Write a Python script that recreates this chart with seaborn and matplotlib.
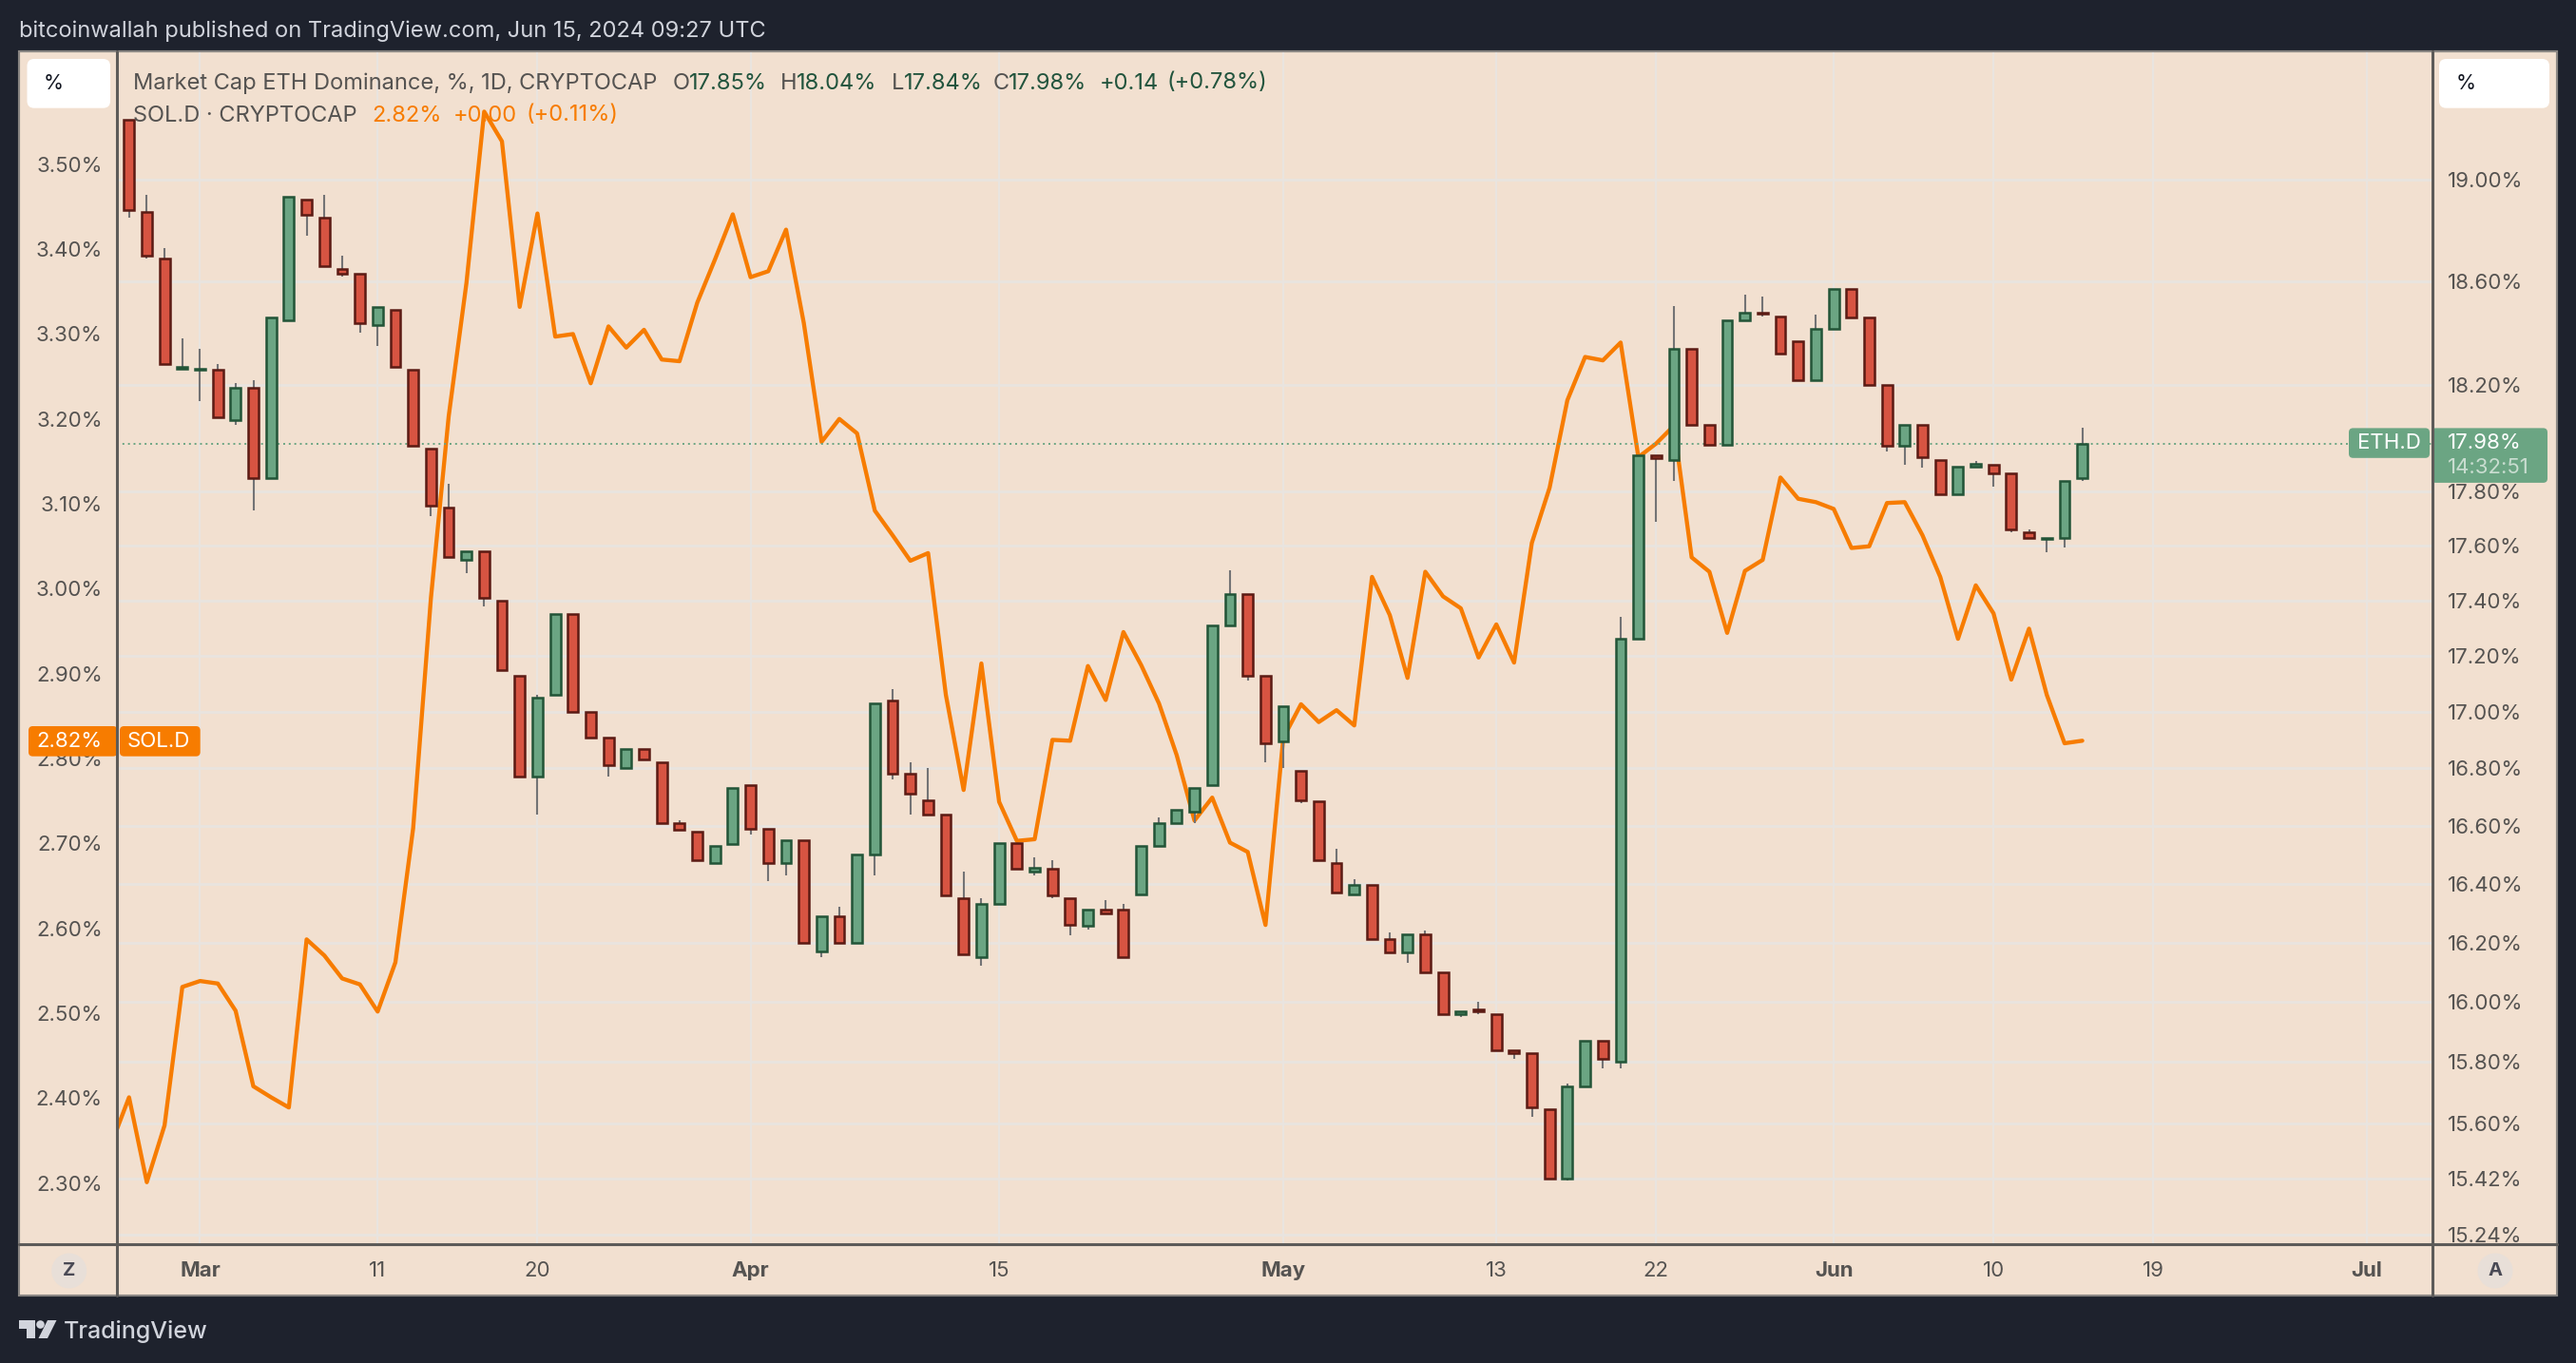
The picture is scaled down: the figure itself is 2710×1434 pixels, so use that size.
"""ETH.D candles with the SOL.D line, TradingView style."""

import matplotlib
matplotlib.use("Agg")
import matplotlib.dates as mdates
import matplotlib.pyplot as plt
from matplotlib.patches import Circle, FancyBboxPatch, Polygon, Rectangle
from matplotlib.ticker import FixedFormatter, FixedLocator, NullLocator
import pandas as pd
import seaborn as sns

# ── data ──────────────────────────────────────────────────────────────────────
eth_open = [
    19.24, 18.87, 18.69, 18.265, 18.26, 18.26, 18.07, 18.19, 17.85, 18.45,
    18.92, 18.85, 18.65, 18.63, 18.43, 18.49, 18.26, 17.96, 17.74, 17.55,
    17.58, 17.40, 17.13, 16.77, 17.06, 17.35, 17.00, 16.91, 16.80, 16.87,
    16.82, 16.61, 16.58, 16.47, 16.535, 16.74, 16.59, 16.47, 16.55, 16.17,
    16.29, 16.20, 16.50, 17.04, 16.78, 16.69, 16.64, 16.35, 16.15, 16.33,
    16.54, 16.44, 16.45, 16.35, 16.255, 16.31, 16.31, 16.365, 16.53, 16.61,
    16.65, 16.74, 17.31, 17.425, 17.13, 16.895, 16.79, 16.685, 16.47, 16.365,
    16.395, 16.21, 16.165, 16.226, 16.10, 15.96, 15.975, 15.96, 15.84, 15.83,
    15.645, 15.42, 15.72, 15.87, 15.80, 17.26, 17.935, 17.92, 18.34, 18.05,
    17.975, 18.45, 18.48, 18.465, 18.37, 18.22, 18.415, 18.57, 18.46, 18.20,
    17.97, 18.05, 17.92, 17.79, 17.895, 17.90, 17.87, 17.65, 17.625, 17.63, 17.85,
]
eth_high = [
    19.24, 18.94, 18.73, 18.38, 18.34, 18.28, 18.21, 18.22, 18.46, 18.93,
    18.92, 18.94, 18.70, 18.63, 18.50, 18.49, 18.26, 17.96, 17.83, 17.58,
    17.58, 17.40, 17.13, 17.06, 17.35, 17.35, 17.00, 16.91, 16.87, 16.87,
    16.82, 16.62, 16.58, 16.53, 16.73, 16.74, 16.59, 16.55, 16.55, 16.29,
    16.32, 16.50, 17.03, 17.08, 16.82, 16.80, 16.64, 16.44, 16.35, 16.54,
    16.54, 16.49, 16.48, 16.35, 16.31, 16.345, 16.33, 16.53, 16.63, 16.655,
    16.73, 17.31, 17.51, 17.425, 17.13, 17.02, 16.79, 16.685, 16.52, 16.415,
    16.395, 16.235, 16.226, 16.24, 16.10, 15.97, 16.00, 15.96, 15.84, 15.83,
    15.645, 15.73, 15.87, 15.87, 17.34, 17.935, 17.935, 18.505, 18.34, 18.05,
    18.45, 18.55, 18.54, 18.465, 18.37, 18.47, 18.57, 18.57, 18.46, 18.20,
    18.05, 18.05, 17.92, 17.895, 17.915, 17.90, 17.87, 17.66, 17.63, 17.84, 18.04,
]
eth_low = [
    18.85, 18.69, 18.28, 18.26, 18.14, 18.08, 18.05, 17.73, 17.85, 18.45,
    18.78, 18.66, 18.62, 18.40, 18.35, 18.27, 17.97, 17.71, 17.56, 17.50,
    17.38, 17.15, 16.77, 16.64, 17.06, 17.00, 16.91, 16.77, 16.80, 16.83,
    16.61, 16.585, 16.48, 16.47, 16.535, 16.57, 16.41, 16.43, 16.20, 16.15,
    16.20, 16.20, 16.43, 16.76, 16.64, 16.64, 16.36, 16.16, 16.12, 16.33,
    16.45, 16.43, 16.35, 16.225, 16.245, 16.30, 16.15, 16.365, 16.53, 16.61,
    16.61, 16.74, 17.31, 17.11, 16.82, 16.80, 16.68, 16.48, 16.37, 16.365,
    16.21, 16.165, 16.13, 16.10, 15.96, 15.95, 15.96, 15.84, 15.81, 15.62,
    15.42, 15.415, 15.72, 15.78, 15.78, 17.26, 17.69, 17.84, 18.05, 17.975,
    17.975, 18.45, 18.465, 18.32, 18.22, 18.22, 18.415, 18.46, 18.20, 17.95,
    17.90, 17.89, 17.79, 17.79, 17.895, 17.82, 17.65, 17.63, 17.575, 17.595, 17.84,
]
eth_close = [
    18.88, 18.70, 18.28, 18.27, 18.265, 18.08, 18.19, 17.85, 18.46, 18.93,
    18.86, 18.66, 18.63, 18.44, 18.50, 18.27, 17.97, 17.75, 17.56, 17.58,
    17.41, 17.15, 16.77, 17.05, 17.35, 17.00, 16.91, 16.81, 16.87, 16.83,
    16.61, 16.585, 16.48, 16.53, 16.73, 16.59, 16.47, 16.55, 16.20, 16.29,
    16.20, 16.50, 17.03, 16.78, 16.71, 16.64, 16.36, 16.16, 16.33, 16.54,
    16.45, 16.455, 16.36, 16.26, 16.31, 16.30, 16.15, 16.53, 16.61, 16.655,
    16.73, 17.31, 17.425, 17.13, 16.89, 17.02, 16.69, 16.48, 16.37, 16.395,
    16.21, 16.165, 16.226, 16.10, 15.96, 15.97, 15.97, 15.84, 15.83, 15.65,
    15.42, 15.72, 15.87, 15.81, 17.26, 17.935, 17.925, 18.34, 18.05, 17.975,
    18.45, 18.48, 18.475, 18.32, 18.22, 18.415, 18.57, 18.46, 18.20, 17.97,
    18.05, 17.93, 17.79, 17.895, 17.905, 17.87, 17.66, 17.63, 17.63, 17.84, 17.98,
]
# one day longer than the candles: the line runs off the left edge
sol_close = [
    2.346, 2.401, 2.301, 2.368, 2.531, 2.538, 2.535, 2.503, 2.414, 2.401,
    2.389, 2.587, 2.568, 2.541, 2.534, 2.502, 2.560, 2.718, 2.989, 3.203,
    3.360, 3.562, 3.527, 3.332, 3.442, 3.297, 3.300, 3.242, 3.309, 3.284,
    3.305, 3.270, 3.268, 3.337, 3.388, 3.441, 3.367, 3.374, 3.423, 3.313,
    3.173, 3.200, 3.183, 3.092, 3.063, 3.033, 3.042, 2.875, 2.763, 2.912,
    2.749, 2.703, 2.705, 2.822, 2.821, 2.909, 2.869, 2.949, 2.910, 2.865,
    2.804, 2.727, 2.754, 2.701, 2.690, 2.604, 2.824, 2.864, 2.843, 2.857,
    2.839, 3.014, 2.969, 2.895, 3.020, 2.991, 2.977, 2.919, 2.958, 2.913,
    3.054, 3.119, 3.222, 3.273, 3.269, 3.290, 3.155, 3.171, 3.192, 3.037,
    3.020, 2.948, 3.021, 3.034, 3.131, 3.106, 3.102, 3.094, 3.048, 3.050,
    3.101, 3.102, 3.063, 3.014, 2.941, 3.004, 2.971, 2.893, 2.953, 2.875,
    2.818, 2.821,
]
eth_ticks = [19.00, 18.60, 18.20, 17.80, 17.60, 17.40, 17.20, 17.00, 16.80,
             16.60, 16.40, 16.20, 16.00, 15.80, 15.60, 15.42, 15.24]
sol_ticks = [3.50, 3.40, 3.30, 3.20, 3.10, 3.00, 2.90, 2.80, 2.70, 2.60, 2.50, 2.40, 2.30]
time_ticks = ["2024-03-01", "2024-03-11", "2024-03-20", "2024-04-01", "2024-04-15", "2024-05-01",
              "2024-05-13", "2024-05-22", "2024-06-01", "2024-06-10", "2024-06-19", "2024-07-01"]
time_labels = ["Mar", "11", "20", "Apr", "15", "May", "13", "22", "Jun", "10", "19", "Jul"]
month_labels = {"Mar", "Apr", "May", "Jun", "Jul"}

# ── style ─────────────────────────────────────────────────────────────────────
W, H = 2710, 1434
DARK = "#1E222D"
PAPER = "#F2E0D0"
GRID = "#E9E4DF"
AXIS = "#5D5B59"
TEXT = "#555351"
GREEN = "#6BA583"
GREEN_EDGE = "#225437"
RED = "#D75442"
RED_EDGE = "#5B1A13"
WICK = "#737375"
ORANGE = "#F77C00"

sns.set_theme(style="white")
plt.rcParams["font.family"] = ["Inter", "DejaVu Sans"]

AX_L, AX_R, AX_T, AX_B, TIME_B = 122.5, 2559, 54, 1309, 1363


def rect(left, top, right, bottom):
    return [left / W, 1 - bottom / H, (right - left) / W, (bottom - top) / H]


def overlay(fig, zorder):
    a = fig.add_axes([0, 0, 1, 1], zorder=zorder, facecolor="none")
    a.set_xlim(0, W)
    a.set_ylim(H, 0)
    a.axis("off")
    return a


def badge(a, left, top, right, bottom, color, radius=3):
    a.add_patch(FancyBboxPatch(
        (left + radius, top + radius), right - left - 2 * radius, bottom - top - 2 * radius,
        boxstyle=f"round,pad={radius},rounding_size={radius * 1.5}",
        fc=color, ec="none",
    ))


fig = plt.figure(figsize=(W / 100, H / 100), dpi=100, facecolor=DARK)

background = overlay(fig, 0)
background.add_patch(Rectangle((20, AX_T), 2670, TIME_B - AX_T, fc=PAPER, ec="#8A8683", lw=1.5))

# ── axes ──────────────────────────────────────────────────────────────────────
dates = pd.date_range("2024-02-26", periods=len(eth_close), freq="D")
sol_dates = pd.date_range("2024-02-25", periods=len(sol_close), freq="D")
x_candle = mdates.date2num(dates)
x_limits = (mdates.date2num(pd.Timestamp("2024-03-01")) - 4.71,
            mdates.date2num(pd.Timestamp("2024-03-01")) + 125.72)
eth_limits = (15.21, 19.516)
sol_limits = (2.228, 3.633)

ax_grid = fig.add_axes(rect(AX_L, AX_T, AX_R, AX_B), zorder=1, facecolor="none")
ax_sol = fig.add_axes(rect(AX_L, AX_T, AX_R, AX_B), zorder=2, facecolor="none")
ax_eth = fig.add_axes(rect(AX_L, AX_T, AX_R, AX_B), zorder=3, facecolor="none")
ax_time = fig.add_axes(rect(AX_L, AX_B, AX_R, TIME_B), zorder=4, facecolor=PAPER)

tick_x = mdates.date2num(pd.to_datetime(time_ticks))

for a in (ax_grid, ax_eth):
    a.set_yscale("log")
    a.set_ylim(*eth_limits)
for a in (ax_grid, ax_sol, ax_eth, ax_time):
    a.set_xlim(*x_limits)
    a.yaxis.set_minor_locator(NullLocator())
    a.xaxis.set_minor_locator(NullLocator())
    for spine in a.spines.values():
        spine.set_visible(False)

# right scale and grid
ax_grid.yaxis.tick_right()
ax_grid.yaxis.set_major_locator(FixedLocator(eth_ticks))
ax_grid.yaxis.set_major_formatter(FixedFormatter([f"{v:.2f}%" for v in eth_ticks]))
ax_grid.xaxis.set_major_locator(FixedLocator(tick_x))
ax_grid.xaxis.set_major_formatter(FixedFormatter([""] * len(tick_x)))
ax_grid.tick_params(axis="y", length=0, pad=11.5, labelsize=16, labelcolor=TEXT)
ax_grid.tick_params(axis="x", length=0)
ax_grid.grid(True, axis="y", color=GRID, lw=2.0)
ax_grid.grid(True, axis="x", color=GRID, lw=1.6)

# SOL.D line, left scale
sns.lineplot(x=sol_dates, y=sol_close, ax=ax_sol, color=ORANGE, linewidth=3.1, legend=False)
ax_sol.set_xlim(*x_limits)
ax_sol.set_ylim(*sol_limits)
ax_sol.set_xlabel("")
ax_sol.set_ylabel("")
ax_sol.set_xticks([])
ax_sol.set_yticks(sol_ticks)
ax_sol.set_yticklabels([f"{v:.2f}%" for v in sol_ticks])
ax_sol.tick_params(axis="y", length=0, pad=10.5, labelsize=16, labelcolor=TEXT)

# ETH.D candles
candles = pd.DataFrame({"x": x_candle, "open": eth_open, "high": eth_high,
                        "low": eth_low, "close": eth_close})
candles["up"] = candles["close"] >= candles["open"]
candles["body_low"] = candles[["open", "close"]].min(axis=1)
candles["body_high"] = candles[["open", "close"]].max(axis=1)

ax_eth.vlines(candles["x"], candles["low"], candles["high"], color=WICK, lw=1.5, zorder=2)
for is_up, face, edge in ((True, GREEN, GREEN_EDGE), (False, RED, RED_EDGE)):
    sub = candles[candles["up"] == is_up]
    ax_eth.bar(sub["x"], sub["body_high"] - sub["body_low"], bottom=sub["body_low"],
               width=0.58, color=face, edgecolor=edge, linewidth=1.8, zorder=3)
ax_eth.set_xlim(*x_limits)
ax_eth.set_ylim(*eth_limits)
ax_eth.set_xticks([])
ax_eth.yaxis.set_major_locator(FixedLocator([]))
ax_eth.axhline(eth_close[-1], color=GREEN, lw=1.4, linestyle=(0, (1, 2)), zorder=1)

# time scale
ax_time.set_yticks([])
ax_time.set_xticks(tick_x)
ax_time.set_xticklabels(time_labels)
ax_time.tick_params(axis="x", length=0, pad=-26, labelsize=16, labelcolor=TEXT)
for label in ax_time.get_xticklabels():
    if label.get_text() in month_labels:
        label.set_fontweight("bold")

# ── chrome ────────────────────────────────────────────────────────────────────
ov = overlay(fig, 5)
ov.add_patch(Rectangle((20, AX_B), AX_L - 20, TIME_B - AX_B, fc=PAPER, ec="none"))
ov.add_patch(Rectangle((AX_R, AX_B), 2690 - AX_R, TIME_B - AX_B, fc=PAPER, ec="none"))
ov.add_patch(Rectangle((20, AX_T), 2670, TIME_B - AX_T, fc="none", ec="#8A8683", lw=1.5))
ov.plot([AX_L, AX_L], [AX_T, TIME_B], color=AXIS, lw=2.2)
ov.plot([AX_R, AX_R], [AX_T, TIME_B], color=AXIS, lw=2.2)
ov.plot([20, 2690], [AX_B, AX_B], color=AXIS, lw=2.2)

# header and footer
ov.text(20, 33, "bitcoinwallah published on TradingView.com, Jun 15, 2024 09:27 UTC",
        color="#D1D4DC", fontsize=17, va="center")
ov.text(67, 1401, "TradingView", color="#D1D4DC", fontsize=18, va="center", fontweight="medium")
ov.add_patch(Polygon([(20, 1389), (37, 1389), (37, 1408), (28, 1408), (28, 1398), (20, 1398)],
                     fc="#D1D4DC", ec="none"))
ov.add_patch(Circle((42.5, 1393.5), 4.3, fc="#D1D4DC", ec="none"))
ov.add_patch(Polygon([(50, 1389), (59.5, 1389), (50, 1408), (40.5, 1408)], fc="#D1D4DC", ec="none"))

# legend rows
LEGEND_GREEN = "#22543D"
row1 = [
    (140, "Market Cap ETH Dominance, %, 1D, CRYPTOCAP", TEXT), (708, "O", TEXT), (725, "17.85%", LEGEND_GREEN),
    (821, "H", TEXT), (838, "18.04%", LEGEND_GREEN), (937.5, "L", TEXT), (951, "17.84%", LEGEND_GREEN),
    (1044.6, "C", TEXT), (1061, "17.98%", LEGEND_GREEN), (1157, "+0.14", LEGEND_GREEN),
    (1228, "(+0.78%)", LEGEND_GREEN),
]
row2 = [
    (140, "SOL.D · CRYPTOCAP", TEXT), (391, "2.82%", ORANGE), (477, "+0.00", ORANGE), (553.6, "(+0.11%)", ORANGE),
]
for y, row in ((87.5, row1), (121.5, row2)):
    for x, s, c in row:
        ov.text(x, y, s, color=c, fontsize=17, va="center")

# unit boxes
for left, right, cx in ((28.5, 116, 56), (2566, 2682, 2594)):
    badge(ov, left, 62, right, 113.7, "white", radius=5)
    ov.text(cx, 87.5, "%", color="#131722", fontsize=15.5, ha="center", va="center")

# Z / A buttons
for cx, s in ((72.7, "Z"), (2625, "A")):
    ov.add_patch(Circle((cx, 1337), 18.5, fc="#E8DFD8", ec="none"))
    ov.text(cx, 1337, s, color="#4A4A55", fontsize=14.5, fontweight="bold", ha="center", va="center")

# last value badges
badge(ov, 2471, 450.4, 2556, 481.8, GREEN)
badge(ov, 2558, 450.4, 2680, 507.9, GREEN)
ov.text(2513.7, 466, "ETH.D", color="white", fontsize=16, ha="center", va="center")
ov.text(2575, 466, "17.98%", color="white", fontsize=16, va="center")
ov.text(2575, 491.8, "14:32:51", color="#C9DDD0", fontsize=16, va="center")

badge(ov, 30, 764, 123.5, 795.7, ORANGE)
badge(ov, 126, 764, 210.7, 795.7, ORANGE)
ov.text(73, 780, "2.82%", color="white", fontsize=16, ha="center", va="center")
ov.text(167, 780, "SOL.D", color="white", fontsize=16, ha="center", va="center")

fig.savefig("out.png", dpi=100, facecolor=fig.get_facecolor())
plt.close(fig)
